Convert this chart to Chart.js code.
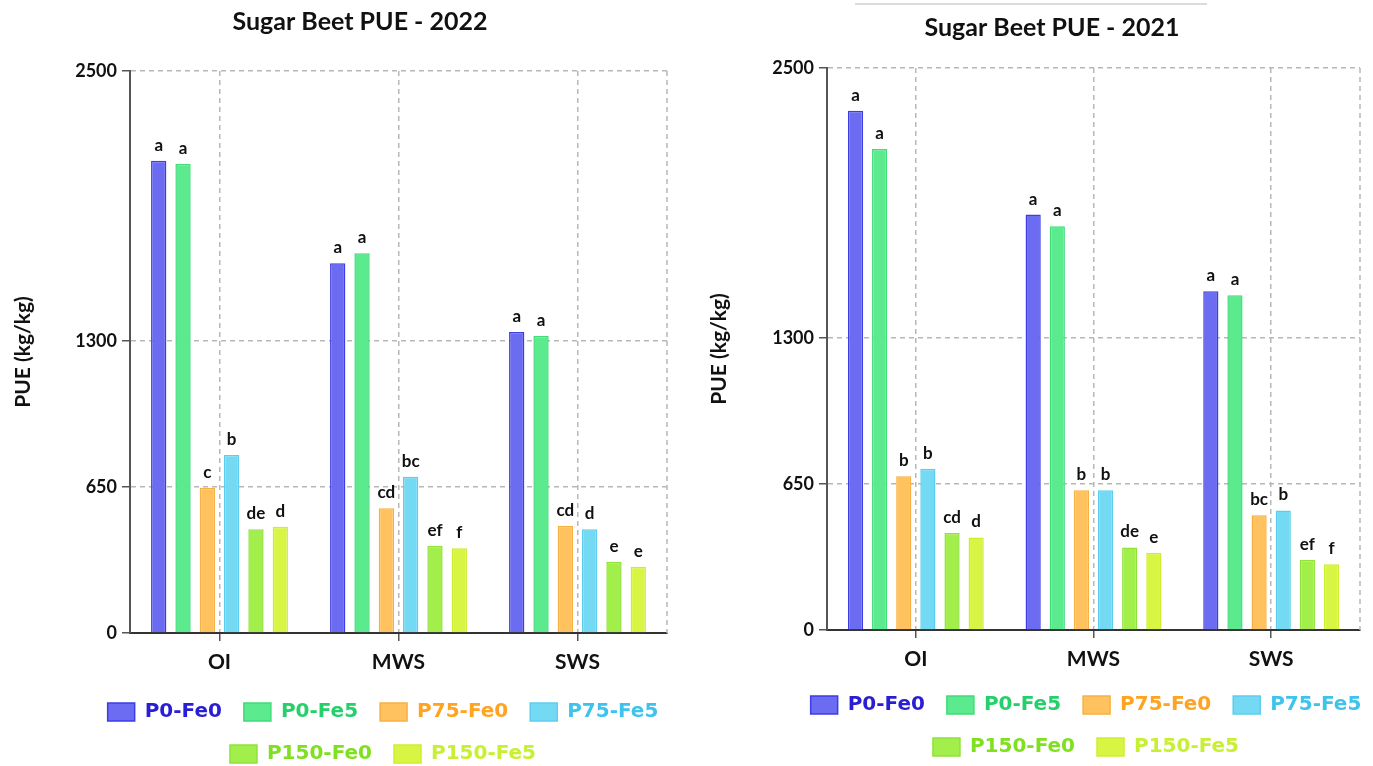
<!DOCTYPE html>
<html><head><meta charset="utf-8">
<script src="https://cdn.jsdelivr.net/npm/chart.js@4.4.1/dist/chart.umd.min.js"></script>
<style>
html,body{margin:0;padding:0;background:#fff;width:1373px;height:766px;overflow:hidden;}
#wrap{position:relative;width:1373px;height:766px;overflow:hidden;background:#fff;}
canvas{position:absolute;top:0;}
</style></head><body>
<div id="wrap">
<canvas id="c2022" width="726" height="800" style="left:0px"></canvas>
<canvas id="c2021" width="752" height="800" style="left:690px"></canvas>
</div>
<script>
// ---- data ----
const categories = ['OI', 'MWS', 'SWS'];
const seriesNames = ['P0-Fe0', 'P0-Fe5', 'P75-Fe0', 'P75-Fe5', 'P150-Fe0', 'P150-Fe5'];
const yTicks = [0, 650, 1300, 2500];

// 2022
const pue2022_P0Fe0   = [2101, 1645, 1339];
const pue2022_P0Fe5   = [2086, 1689, 1321];
const pue2022_P75Fe0  = [646, 555, 477];
const pue2022_P75Fe5  = [792, 695, 461];
const pue2022_P150Fe0 = [461, 387, 317];
const pue2022_P150Fe5 = [473, 377, 295];
const sig2022_P0Fe0   = ['a', 'a', 'a'];
const sig2022_P0Fe5   = ['a', 'a', 'a'];
const sig2022_P75Fe0  = ['c', 'cd', 'cd'];
const sig2022_P75Fe5  = ['b', 'bc', 'd'];
const sig2022_P150Fe0 = ['de', 'ef', 'e'];
const sig2022_P150Fe5 = ['d', 'f', 'e'];

// 2021
const pue2021_P0Fe0   = [2310, 1848, 1507];
const pue2021_P0Fe5   = [2140, 1796, 1489];
const pue2021_P75Fe0  = [684, 622, 511];
const pue2021_P75Fe5  = [717, 622, 532];
const pue2021_P150Fe0 = [432, 367, 311];
const pue2021_P150Fe5 = [412, 344, 293];
const sig2021_P0Fe0   = ['a', 'a', 'a'];
const sig2021_P0Fe5   = ['a', 'a', 'a'];
const sig2021_P75Fe0  = ['b', 'b', 'bc'];
const sig2021_P75Fe5  = ['b', 'b', 'b'];
const sig2021_P150Fe0 = ['cd', 'de', 'ef'];
const sig2021_P150Fe5 = ['d', 'e', 'f'];

// ---- styles ----
const fillColors   = ['#6b6cf2', '#5cea8f', '#ffc25e', '#74d9f3', '#a2ef4c', '#d9f544'];
const borderColors = ['#3d3de6', '#3fdc78', '#f9b043', '#5ccdef', '#8fe238', '#cbee2e'];
const legendTextColors = ['#2a1ed4', '#25d06a', '#ffa321', '#3ec4ec', '#7fe020', '#c8f032'];
const gridColor = '#b8b8b8';
const gridDash = [5, 4];

const decoPlugin = {
  id: 'deco',
  beforeDatasetsDraw(chart) {
    // dashed right frame edge of the plot area
    const ctx = chart.ctx, a = chart.chartArea;
    ctx.save();
    ctx.strokeStyle = gridColor; ctx.lineWidth = 1.5; ctx.setLineDash(gridDash);
    ctx.beginPath(); ctx.moveTo(a.right, a.top); ctx.lineTo(a.right, a.bottom); ctx.stroke();
    ctx.restore();
  },
  afterDraw(chart, args, opts) {
    const ctx = chart.ctx;
    ctx.save();
    if (opts.line) {
      ctx.strokeStyle = '#cfcfcf'; ctx.lineWidth = 1.5;
      ctx.beginPath(); ctx.moveTo(opts.line[0], opts.line[2]); ctx.lineTo(opts.line[1], opts.line[2]); ctx.stroke();
    }
    ctx.font = 'bold 25px Lato';
    ctx.fillStyle = '#111';
    ctx.textAlign = 'center';
    ctx.textBaseline = 'middle';
    ctx.fillText(opts.text, chart.chartArea.left + opts.dx, opts.y);
    ctx.restore();
  }
};

const letterPlugin = {
  id: 'sigLetters',
  afterDatasetsDraw(chart, args, opts) {
    const ctx = chart.ctx;
    ctx.save();
    ctx.font = 'bold 17px Lato';
    ctx.fillStyle = '#111';
    ctx.textAlign = 'center';
    ctx.textBaseline = 'alphabetic';
    chart.data.datasets.forEach((ds, di) => {
      const meta = chart.getDatasetMeta(di);
      meta.data.forEach((el, i) => {
        ctx.fillText(opts.letters[di][i], el.x, el.y - 10);
      });
    });
    ctx.restore();
  }
};

function buildChart(id, series, letters, g) {
  const datasets = series.map((vals, i) => ({
    label: seriesNames[i],
    data: vals,
    backgroundColor: fillColors[i],
    borderColor: borderColors[i],
    borderWidth: 1.5,
    categoryPercentage: 0.815,
    barPercentage: 0.63,
    yAxisID: 'y'
  }));
  return new Chart(document.getElementById(id), {
    type: 'bar',
    data: { labels: categories, datasets },
    plugins: [decoPlugin, letterPlugin],
    options: {
      responsive: false,
      animation: false,
      devicePixelRatio: 1,
      layout: { padding: { top: g.padTop, left: g.padLeft, right: 0, bottom: g.padBottom } },
      scales: {
        x: {
          grid: { offset: false, color: gridColor, lineWidth: 1.5, tickColor: '#555', tickLength: 8, tickWidth: 1.5, tickBorderDash: [] },
          border: { display: true, color: '#333', width: 2, dash: gridDash },
          ticks: { color: '#111', padding: g.xPad, font: { family: 'Lato', size: 21, weight: 'bold' } },
          afterFit(s) { s.height = g.xHeight; }
        },
        y: {
          min: 0, max: 2500,
          afterBuildTicks(s) { s.ticks = yTicks.map(v => ({ value: v })); },
          grid: { color: gridColor, lineWidth: 1.5, tickColor: '#555', tickLength: 8, tickWidth: 1.5, tickBorderDash: [] },
          border: { display: true, color: '#555', width: 2, dash: gridDash },
          ticks: { color: '#111', padding: 5, font: { family: 'Lato', size: 18, weight: 'bold' }, callback: v => String(v) },
          title: { display: true, text: 'PUE (kg/kg)', color: '#111', padding: { top: g.yTitlePad, bottom: 0 }, font: { family: 'Lato', size: 21, weight: 'bold' } },
          afterFit(s) { s.width = g.yWidth; }
        },
        yR: {
          position: 'right', min: 0, max: 2500,
          grid: { display: false },
          ticks: { display: false },
          border: { display: false },
          afterFit(s) { s.width = g.rWidth; }
        }
      },
      plugins: {
        title: { display: false },
        tooltip: { enabled: false },
        deco: { text: g.title, dx: g.titleDx, y: g.titleY, line: g.topLine },
        sigLetters: { letters },
        legend: {
          position: 'bottom',
          labels: {
            boxWidth: 27, boxHeight: 18, padding: 22,
            font: { family: 'DejaVu Sans', size: 20, weight: 'bold' },
            generateLabels(chart) {
              const items = Chart.defaults.plugins.legend.labels.generateLabels(chart);
              return items.map((it, i) => Object.assign(it, { fontColor: legendTextColors[i], lineWidth: 1.5 }));
            }
          }
        }
      }
    }
  });
}

buildChart('c2022',
  [pue2022_P0Fe0, pue2022_P0Fe5, pue2022_P75Fe0, pue2022_P75Fe5, pue2022_P150Fe0, pue2022_P150Fe5],
  [sig2022_P0Fe0, sig2022_P0Fe5, sig2022_P75Fe0, sig2022_P75Fe5, sig2022_P150Fe0, sig2022_P150Fe5],
  { padTop: 71, padLeft: 40, padBottom: 26, yWidth: 90, rWidth: 59, xHeight: 47, xPad: 9, yTitlePad: -29,
    title: 'Sugar Beet PUE - 2022', titleDx: 230, titleY: 22, topLine: null });

buildChart('c2021',
  [pue2021_P0Fe0, pue2021_P0Fe5, pue2021_P75Fe0, pue2021_P75Fe5, pue2021_P150Fe0, pue2021_P150Fe5],
  [sig2021_P0Fe0, sig2021_P0Fe5, sig2021_P75Fe0, sig2021_P75Fe5, sig2021_P150Fe0, sig2021_P150Fe5],
  { padTop: 68, padLeft: 40, padBottom: 33, yWidth: 97, rWidth: 82, xHeight: 43, xPad: 9, yTitlePad: -23,
    title: 'Sugar Beet PUE - 2021', titleDx: 225, titleY: 28, topLine: [165, 517, 4] });
</script>
</body></html>
